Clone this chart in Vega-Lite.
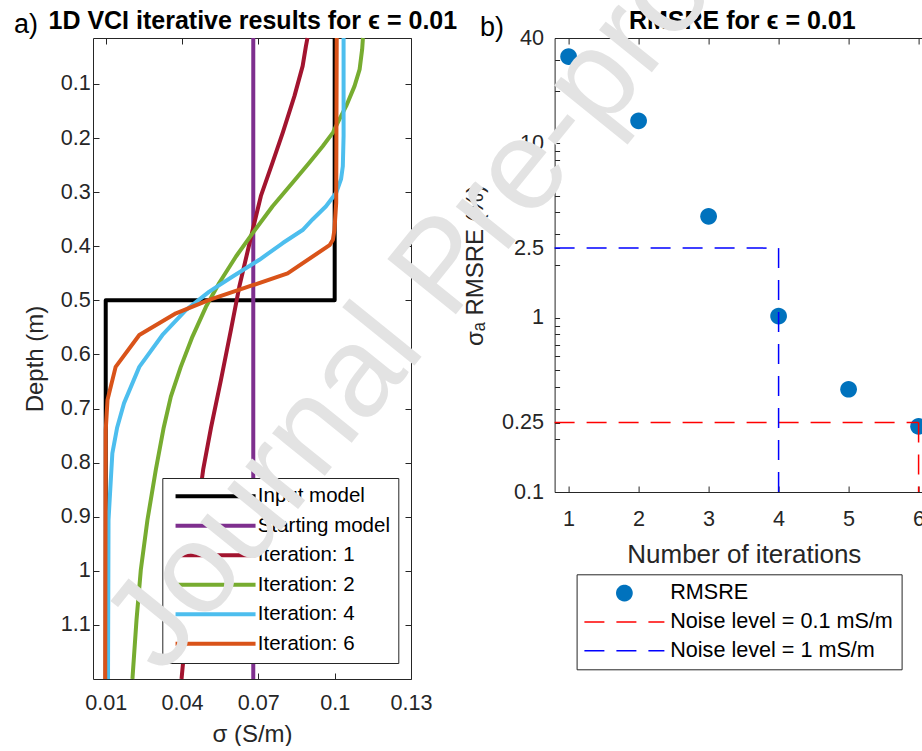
{
 "$schema": "https://vega.github.io/schema/vega-lite/v6.json",
 "background": "white",
 "padding": {"left": 13, "top": -157, "right": -2, "bottom": 0},
 "bounds": "flush",
 "spacing": 143.6,
 "config": {
  "view": {"stroke": null},
  "font": "Liberation Sans",
  "axis": {"labelFont": "Liberation Sans", "labelFontSize": 21.6, "labelColor": "#262626", "titleFont": "Liberation Sans", "titleFontWeight": "normal", "titleColor": "#262626", "domainColor": "#262626", "tickColor": "#262626", "tickSize": -6, "grid": false, "domainWidth": 1, "tickWidth": 1, "labelOverlap": false, "labelFlush": false, "labelBound": false}
 },
 "resolve": {
  "scale": {"color": "independent", "shape": "independent", "strokeDash": "independent"},
  "legend": {"color": "independent", "shape": "independent", "strokeDash": "independent"}
 },
 "hconcat": [
  {
   "width": 318,
   "height": 641,
   "layer": [
    {
     "data": {"values": [
      {"model": "Input model", "i": 0, "depth": 0.015, "sigma": 0.1},
      {"model": "Input model", "i": 1, "depth": 0.5, "sigma": 0.1},
      {"model": "Input model", "i": 2, "depth": 0.5, "sigma": 0.01},
      {"model": "Input model", "i": 3, "depth": 1.2, "sigma": 0.01},
      {"model": "Starting model", "i": 0, "depth": 0.015, "sigma": 0.068},
      {"model": "Starting model", "i": 1, "depth": 1.2, "sigma": 0.068},
      {"model": "Iteration: 1", "i": 0, "depth": 0.015, "sigma": 0.0893},
      {"model": "Iteration: 1", "i": 1, "depth": 0.03, "sigma": 0.0887},
      {"model": "Iteration: 1", "i": 2, "depth": 0.067, "sigma": 0.0874},
      {"model": "Iteration: 1", "i": 3, "depth": 0.122, "sigma": 0.0842},
      {"model": "Iteration: 1", "i": 4, "depth": 0.19, "sigma": 0.0796},
      {"model": "Iteration: 1", "i": 5, "depth": 0.245, "sigma": 0.0756},
      {"model": "Iteration: 1", "i": 6, "depth": 0.307, "sigma": 0.071},
      {"model": "Iteration: 1", "i": 7, "depth": 0.375, "sigma": 0.0675},
      {"model": "Iteration: 1", "i": 8, "depth": 0.475, "sigma": 0.0625},
      {"model": "Iteration: 1", "i": 9, "depth": 0.555, "sigma": 0.0592},
      {"model": "Iteration: 1", "i": 10, "depth": 0.647, "sigma": 0.0553},
      {"model": "Iteration: 1", "i": 11, "depth": 0.735, "sigma": 0.0514},
      {"model": "Iteration: 1", "i": 12, "depth": 0.813, "sigma": 0.0483},
      {"model": "Iteration: 1", "i": 13, "depth": 0.9, "sigma": 0.0458},
      {"model": "Iteration: 1", "i": 14, "depth": 1.0, "sigma": 0.0437},
      {"model": "Iteration: 1", "i": 15, "depth": 1.1, "sigma": 0.0418},
      {"model": "Iteration: 1", "i": 16, "depth": 1.2, "sigma": 0.0398},
      {"model": "Iteration: 2", "i": 0, "depth": 0.015, "sigma": 0.1111},
      {"model": "Iteration: 2", "i": 1, "depth": 0.036, "sigma": 0.1108},
      {"model": "Iteration: 2", "i": 2, "depth": 0.073, "sigma": 0.1098},
      {"model": "Iteration: 2", "i": 3, "depth": 0.104, "sigma": 0.1078},
      {"model": "Iteration: 2", "i": 4, "depth": 0.141, "sigma": 0.1045},
      {"model": "Iteration: 2", "i": 5, "depth": 0.165, "sigma": 0.1019},
      {"model": "Iteration: 2", "i": 6, "depth": 0.19, "sigma": 0.0993},
      {"model": "Iteration: 2", "i": 7, "depth": 0.215, "sigma": 0.0953},
      {"model": "Iteration: 2", "i": 8, "depth": 0.245, "sigma": 0.0901},
      {"model": "Iteration: 2", "i": 9, "depth": 0.282, "sigma": 0.0835},
      {"model": "Iteration: 2", "i": 10, "depth": 0.326, "sigma": 0.0756},
      {"model": "Iteration: 2", "i": 11, "depth": 0.373, "sigma": 0.0682},
      {"model": "Iteration: 2", "i": 12, "depth": 0.419, "sigma": 0.0612},
      {"model": "Iteration: 2", "i": 13, "depth": 0.468, "sigma": 0.0546},
      {"model": "Iteration: 2", "i": 14, "depth": 0.512, "sigma": 0.0494},
      {"model": "Iteration: 2", "i": 15, "depth": 0.567, "sigma": 0.0441},
      {"model": "Iteration: 2", "i": 16, "depth": 0.623, "sigma": 0.0395},
      {"model": "Iteration: 2", "i": 17, "depth": 0.678, "sigma": 0.0356},
      {"model": "Iteration: 2", "i": 18, "depth": 0.735, "sigma": 0.0328},
      {"model": "Iteration: 2", "i": 19, "depth": 0.813, "sigma": 0.0297},
      {"model": "Iteration: 2", "i": 20, "depth": 0.906, "sigma": 0.0264},
      {"model": "Iteration: 2", "i": 21, "depth": 0.998, "sigma": 0.0238},
      {"model": "Iteration: 2", "i": 22, "depth": 1.091, "sigma": 0.0221},
      {"model": "Iteration: 2", "i": 23, "depth": 1.2, "sigma": 0.0205},
      {"model": "Iteration: 4", "i": 0, "depth": 0.015, "sigma": 0.1035},
      {"model": "Iteration: 4", "i": 1, "depth": 0.196, "sigma": 0.1035},
      {"model": "Iteration: 4", "i": 2, "depth": 0.252, "sigma": 0.1032},
      {"model": "Iteration: 4", "i": 3, "depth": 0.276, "sigma": 0.1025},
      {"model": "Iteration: 4", "i": 4, "depth": 0.301, "sigma": 0.1006},
      {"model": "Iteration: 4", "i": 5, "depth": 0.326, "sigma": 0.0966},
      {"model": "Iteration: 4", "i": 6, "depth": 0.35, "sigma": 0.0914},
      {"model": "Iteration: 4", "i": 7, "depth": 0.37, "sigma": 0.0874},
      {"model": "Iteration: 4", "i": 8, "depth": 0.394, "sigma": 0.0796},
      {"model": "Iteration: 4", "i": 9, "depth": 0.425, "sigma": 0.0704},
      {"model": "Iteration: 4", "i": 10, "depth": 0.456, "sigma": 0.0599},
      {"model": "Iteration: 4", "i": 11, "depth": 0.484, "sigma": 0.0507},
      {"model": "Iteration: 4", "i": 12, "depth": 0.518, "sigma": 0.0415},
      {"model": "Iteration: 4", "i": 13, "depth": 0.564, "sigma": 0.0323},
      {"model": "Iteration: 4", "i": 14, "depth": 0.623, "sigma": 0.0232},
      {"model": "Iteration: 4", "i": 15, "depth": 0.69, "sigma": 0.0172},
      {"model": "Iteration: 4", "i": 16, "depth": 0.735, "sigma": 0.0145},
      {"model": "Iteration: 4", "i": 17, "depth": 0.783, "sigma": 0.0126},
      {"model": "Iteration: 4", "i": 18, "depth": 0.906, "sigma": 0.0111},
      {"model": "Iteration: 4", "i": 19, "depth": 1.2, "sigma": 0.0109},
      {"model": "Iteration: 6", "i": 0, "depth": 0.015, "sigma": 0.1008},
      {"model": "Iteration: 6", "i": 1, "depth": 0.32, "sigma": 0.1006},
      {"model": "Iteration: 6", "i": 2, "depth": 0.37, "sigma": 0.0999},
      {"model": "Iteration: 6", "i": 3, "depth": 0.388, "sigma": 0.0993},
      {"model": "Iteration: 6", "i": 4, "depth": 0.398, "sigma": 0.098},
      {"model": "Iteration: 6", "i": 5, "depth": 0.45, "sigma": 0.0815},
      {"model": "Iteration: 6", "i": 6, "depth": 0.472, "sigma": 0.0678},
      {"model": "Iteration: 6", "i": 7, "depth": 0.499, "sigma": 0.0507},
      {"model": "Iteration: 6", "i": 8, "depth": 0.524, "sigma": 0.0376},
      {"model": "Iteration: 6", "i": 9, "depth": 0.564, "sigma": 0.0232},
      {"model": "Iteration: 6", "i": 10, "depth": 0.623, "sigma": 0.0139},
      {"model": "Iteration: 6", "i": 11, "depth": 0.684, "sigma": 0.0107},
      {"model": "Iteration: 6", "i": 12, "depth": 0.74, "sigma": 0.01},
      {"model": "Iteration: 6", "i": 13, "depth": 1.2, "sigma": 0.0098}
     ]},
     "mark": {"type": "line", "strokeWidth": 4, "strokeJoin": "round"},
     "encoding": {
      "x": {"field": "sigma", "type": "quantitative", "scale": {"domain": [0.005, 0.13], "nice": false, "zero": false},
            "axis": {"orient": "bottom", "values": [0.01, 0.04, 0.07, 0.1, 0.13], "format": "~g", "labelPadding": 19.5, "title": "σ (S/m)", "titleFontSize": 24, "titlePadding": 7.9}},
      "y": {"field": "depth", "type": "quantitative", "scale": {"domain": [0.015, 1.2], "reverse": true, "nice": false, "zero": false},
            "axis": {"orient": "left", "values": [0.1, 0.2, 0.3, 0.4, 0.5, 0.6, 0.7, 0.8, 0.9, 1, 1.1], "format": "~g", "labelPadding": 8.7, "title": "Depth (m)", "titleFontSize": 24, "titlePadding": 12.7}},
      "color": {"field": "model", "type": "nominal",
                "scale": {"domain": ["Input model", "Starting model", "Iteration: 1", "Iteration: 2", "Iteration: 4", "Iteration: 6"],
                          "range": ["#000000", "#7E2F8E", "#A2142F", "#77AC30", "#4DBEEE", "#D95319"]},
                "legend": {"title": null, "orient": "none", "legendX": 69.3, "legendY": 440, "direction": "vertical",
                           "symbolType": "M-8,0L8,0", "symbolSize": 100, "symbolStrokeWidth": 4, "symbolOffset": 35,
                           "labelOffset": 32, "labelFontSize": 20.5, "labelFont": "Liberation Sans", "labelColor": "#000000", "labelLimit": 400,
                           "padding": 8, "rowPadding": 8.5, "strokeColor": "#262626", "fillColor": "#ffffff", "cornerRadius": 0}},
      "order": {"field": "i", "type": "quantitative"}
     }
    },
    {
     "data": {"values": [{}]},
     "mark": {"type": "text", "text": ""},
     "encoding": {
      "x": {"datum": 0.005, "type": "quantitative",
            "axis": {"orient": "top", "values": [0.01, 0.04, 0.07, 0.1, 0.13], "labels": false,
                     "title": "1D VCI iterative results for ϵ = 0.01", "titleFontSize": 25, "titleFontWeight": "bold", "titleColor": "#000000",
                     "titleX": 159.3, "titleY": -9.7, "titleAlign": "center", "titleBaseline": "alphabetic", "titleAngle": 0}},
      "y": {"datum": 0.015, "type": "quantitative",
            "axis": {"orient": "right", "values": [0.1, 0.2, 0.3, 0.4, 0.5, 0.6, 0.7, 0.8, 0.9, 1, 1.1], "labels": false,
                     "title": "a)", "titleFontSize": 27, "titleFontWeight": "normal", "titleColor": "#000000",
                     "titleX": -373.4, "titleY": -5.4, "titleAlign": "right", "titleBaseline": "alphabetic", "titleAngle": 0}}
     }
    }
   ],
   "resolve": {"axis": {"x": "independent", "y": "independent"}}
  },
  {
   "width": 367.7,
   "height": 454,
   "layer": [
    {
     "data": {"values": [
      {"iter": 1, "rmsre": 31.3, "series": "RMSRE"},
      {"iter": 2, "rmsre": 13.4, "series": "RMSRE"},
      {"iter": 3, "rmsre": 3.8, "series": "RMSRE"},
      {"iter": 4, "rmsre": 1.02, "series": "RMSRE"},
      {"iter": 5, "rmsre": 0.388, "series": "RMSRE"},
      {"iter": 6, "rmsre": 0.238, "series": "RMSRE"}
     ]},
     "mark": {"type": "point", "filled": true, "size": 121, "opacity": 1, "clip": true},
     "encoding": {
      "x": {"field": "iter", "type": "quantitative", "scale": {"domain": [0.8, 6.053], "nice": false, "zero": false},
            "axis": {"orient": "bottom", "values": [1, 2, 3, 4, 5, 6], "format": "d", "labelPadding": 22.8, "title": "Number of iterations", "titleFontSize": 26, "titlePadding": 11.4, "titleX": 189.2}},
      "y": {"field": "rmsre", "type": "quantitative", "scale": {"type": "log", "domain": [0.1, 40], "nice": false},
            "axis": {"orient": "left", "values": [0.1, 0.2, 0.25, 0.3, 0.4, 0.5, 0.6, 0.7, 0.8, 0.9, 1, 2, 2.5, 3, 4, 5, 6, 7, 8, 9, 10, 20, 30, 40],
                     "labelExpr": "indexof([0.1, 0.25, 1, 2.5, 10, 40], datum.value) >= 0 ? datum.label : ''",
                     "format": "~g", "tickSize": -5, "labelPadding": 16, "title": "σₐ RMSRE (%)", "titleFontSize": 24, "titlePadding": 14}},
      "color": {"field": "series", "type": "nominal",
                "scale": {"domain": ["RMSRE", "Noise level = 0.1 mS/m", "Noise level = 1 mS/m"], "range": ["#0072BD", "#FF0000", "#0000FF"]},
                "legend": {"title": null, "orient": "none", "legendX": 22, "legendY": 536.3, "direction": "vertical",
                           "symbolSize": 100, "symbolStrokeWidth": 1.5, "symbolOffset": 29, "symbolFillColor": "#0072BD",
                           "labelOffset": 35, "labelFontSize": 21.6, "labelFont": "Liberation Sans", "labelColor": "#000000", "labelLimit": 400,
                           "padding": 8, "rowPadding": 5.8, "strokeColor": "#262626", "fillColor": "#ffffff", "cornerRadius": 0}},
      "shape": {"field": "series", "type": "nominal",
                "scale": {"domain": ["RMSRE", "Noise level = 0.1 mS/m", "Noise level = 1 mS/m"],
                          "range": ["M-1.52,0A1.52,1.52,0,1,1,1.52,0A1.52,1.52,0,1,1,-1.52,0Z", "M-8,0L8,0", "M-8,0L8,0"]},
                "legend": {"title": null, "orient": "none", "legendX": 22, "legendY": 536.3, "direction": "vertical",
                           "symbolSize": 100, "symbolStrokeWidth": 1.5, "symbolOffset": 29, "symbolFillColor": "#0072BD",
                           "labelOffset": 35, "labelFontSize": 21.6, "labelFont": "Liberation Sans", "labelColor": "#000000", "labelLimit": 400,
                           "padding": 8, "rowPadding": 5.8, "strokeColor": "#262626", "fillColor": "#ffffff", "cornerRadius": 0}}
     }
    },
    {
     "data": {"values": [
      {"series": "Noise level = 0.1 mS/m", "xa": 0.8, "xb": 6, "ya": 0.25, "yb": 0.25},
      {"series": "Noise level = 0.1 mS/m", "xa": 6, "xb": 6, "ya": 0.25, "yb": 0.1},
      {"series": "Noise level = 1 mS/m", "xa": 0.8, "xb": 4, "ya": 2.5, "yb": 2.5},
      {"series": "Noise level = 1 mS/m", "xa": 4, "xb": 4, "ya": 2.5, "yb": 0.1}
     ]},
     "mark": {"type": "rule", "strokeWidth": 1.5},
     "encoding": {
      "x": {"field": "xa", "type": "quantitative", "axis": null},
      "x2": {"field": "xb"},
      "y": {"field": "ya", "type": "quantitative", "axis": null},
      "y2": {"field": "yb"},
      "color": {"field": "series", "type": "nominal",
                "scale": {"domain": ["RMSRE", "Noise level = 0.1 mS/m", "Noise level = 1 mS/m"], "range": ["#0072BD", "#FF0000", "#0000FF"]},
                "legend": {"title": null, "orient": "none", "legendX": 22, "legendY": 536.3, "direction": "vertical",
                           "symbolSize": 100, "symbolStrokeWidth": 1.5, "symbolOffset": 29, "symbolFillColor": "#0072BD",
                           "labelOffset": 35, "labelFontSize": 21.6, "labelFont": "Liberation Sans", "labelColor": "#000000", "labelLimit": 400,
                           "padding": 8, "rowPadding": 5.8, "strokeColor": "#262626", "fillColor": "#ffffff", "cornerRadius": 0}},
      "strokeDash": {"field": "series", "type": "nominal",
                "scale": {"domain": ["RMSRE", "Noise level = 0.1 mS/m", "Noise level = 1 mS/m"], "range": [[1, 0], [20, 12], [20, 12]]},
                "legend": {"title": null, "orient": "none", "legendX": 22, "legendY": 536.3, "direction": "vertical",
                           "symbolSize": 100, "symbolStrokeWidth": 1.5, "symbolOffset": 29, "symbolFillColor": "#0072BD",
                           "labelOffset": 35, "labelFontSize": 21.6, "labelFont": "Liberation Sans", "labelColor": "#000000", "labelLimit": 400,
                           "padding": 8, "rowPadding": 5.8, "strokeColor": "#262626", "fillColor": "#ffffff", "cornerRadius": 0}}
     }
    },
    {
     "data": {"values": [{}]},
     "mark": {"type": "text", "text": ""},
     "encoding": {
      "x": {"datum": 0.8, "type": "quantitative",
            "axis": {"orient": "top", "values": [1, 2, 3, 4, 5, 6], "labels": false,
                     "title": "RMSRE for ϵ = 0.01", "titleFontSize": 25, "titleFontWeight": "bold", "titleColor": "#000000",
                     "titleX": 187.2, "titleY": -9.4, "titleAlign": "center", "titleBaseline": "alphabetic", "titleAngle": 0}},
      "y": {"datum": 40, "type": "quantitative",
            "axis": {"orient": "right", "ticks": false, "domain": false, "labels": false,
                     "title": "b)", "titleFontSize": 27, "titleFontWeight": "normal", "titleColor": "#000000",
                     "titleX": -418.7, "titleY": -2.7, "titleAlign": "right", "titleBaseline": "alphabetic", "titleAngle": 0}}
     }
    },
    {
     "data": {"values": [{}]},
     "mark": {"type": "text", "text": "Journal Pre-proof", "angle": 309, "align": "center", "baseline": "middle", "fontSize": 128, "font": "Liberation Sans", "color": "#e3e3e3"},
     "encoding": {
      "x": {"datum": -0.776, "type": "quantitative", "axis": null},
      "y": {"datum": 1.92, "type": "quantitative", "axis": null}
     }
    }
   ],
   "resolve": {"axis": {"x": "independent", "y": "independent"}}
  }
 ]
}
